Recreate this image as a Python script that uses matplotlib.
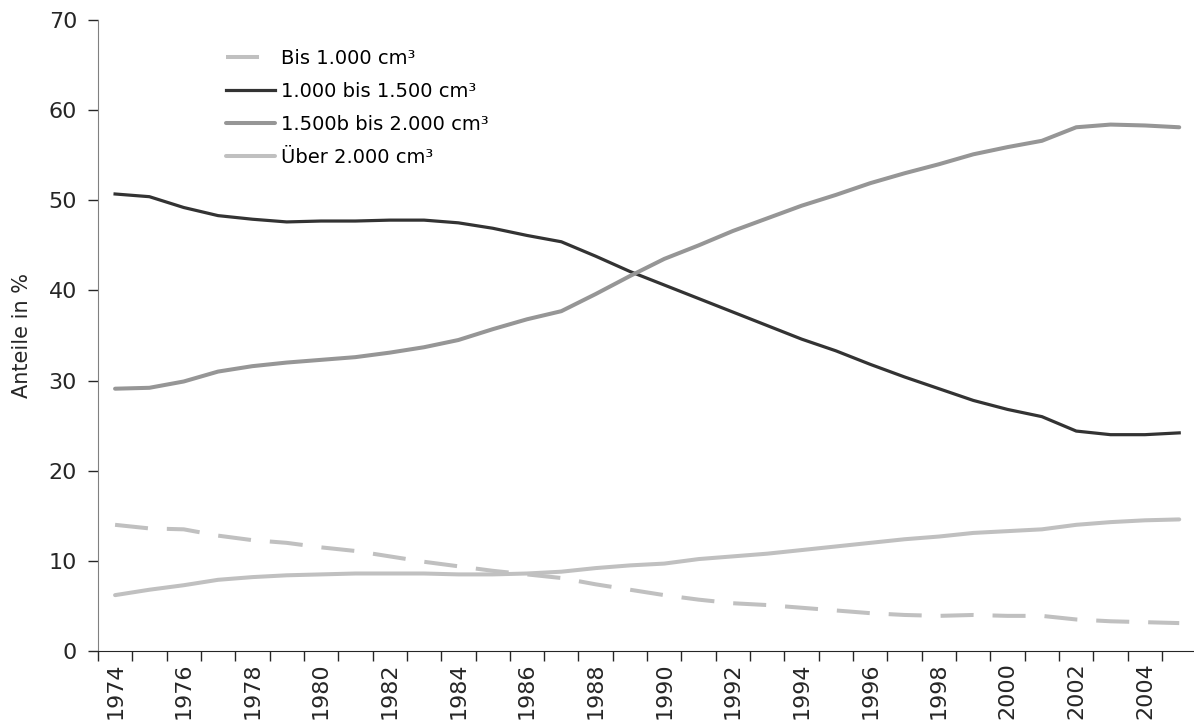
import numpy as np
import matplotlib
matplotlib.use("Agg")
import matplotlib.pyplot as plt

# Data
years = list(range(1974, 2006))

bis_1000 = [14.0, 13.6, 13.5, 12.8, 12.3, 12.0, 11.5, 11.1, 10.5, 9.9,
            9.4, 8.9, 8.5, 8.1, 7.4, 6.8, 6.2, 5.7, 5.3, 5.1,
            4.8, 4.5, 4.2, 4.0, 3.9, 4.0, 3.9, 3.9, 3.5, 3.3, 3.2, 3.1]

von_1000_bis_1500 = [50.7, 50.4, 49.2, 48.3, 47.9, 47.6, 47.7, 47.7, 47.8, 47.8,
                     47.5, 46.9, 46.1, 45.4, 43.8, 42.1, 40.6, 39.1, 37.6, 36.1,
                     34.6, 33.3, 31.8, 30.4, 29.1, 27.8, 26.8, 26.0, 24.4, 24.0, 24.0, 24.2]

von_1500_bis_2000 = [29.1, 29.2, 29.9, 31.0, 31.6, 32.0, 32.3, 32.6, 33.1, 33.7,
                     34.5, 35.7, 36.8, 37.7, 39.6, 41.6, 43.5, 45.0, 46.6, 48.0,
                     49.4, 50.6, 51.9, 53.0, 54.0, 55.1, 55.9, 56.6, 58.1, 58.4, 58.3, 58.1]

ueber_2000 = [6.2, 6.8, 7.3, 7.9, 8.2, 8.4, 8.5, 8.6, 8.6, 8.6,
              8.5, 8.5, 8.6, 8.8, 9.2, 9.5, 9.7, 10.2, 10.5, 10.8,
              11.2, 11.6, 12.0, 12.4, 12.7, 13.1, 13.3, 13.5, 14.0, 14.3, 14.5, 14.6]

labels = ["Bis 1.000 cm³", "1.000 bis 1.500 cm³", "1.500b bis 2.000 cm³", "Über 2.000 cm³"]

plt.rcParams['font.family'] = ['DejaVu Sans']

fig = plt.figure(figsize=(11.94, 7.22), dpi=100)
ax = fig.add_axes([0.082, 0.0983, 0.92, 0.874])

x = np.arange(len(years))

ax.plot(x, bis_1000, color='#c0c0c0', linewidth=2.9, dashes=(8.2, 4.7),
        dash_capstyle='butt', label=labels[0])
ax.plot(x, von_1000_bis_1500, color='#333333', linewidth=2.3, label=labels[1])
ax.plot(x, von_1500_bis_2000, color='#969696', linewidth=2.9, solid_capstyle='round', label=labels[2])
ax.plot(x, ueber_2000, color='#c0c0c0', linewidth=2.9, solid_capstyle='round', label=labels[3])

ax.set_xlim(-0.5, len(years) - 0.5)
ax.set_ylim(0, 70)
ax.set_yticks(range(0, 71, 10))

# labels on every other year, tick marks between categories
ax.set_xticks(x[::2])
ax.set_xticklabels([str(y) for y in years[::2]], rotation=90)
ax.set_xticks(np.arange(-0.5, len(years), 1), minor=True)
ax.tick_params(axis='x', which='major', length=0, pad=8, labelsize=16, colors='#262626')
ax.tick_params(axis='x', which='minor', length=7, width=1, color='#262626')
ax.tick_params(axis='y', length=7, width=1, labelsize=16, colors='#262626', pad=8)

ax.spines['top'].set_visible(False)
ax.spines['right'].set_visible(False)
ax.spines['left'].set_color('#808080')
ax.spines['bottom'].set_color('#262626')

ax.set_ylabel("Anteile in %", fontsize=15, color='#262626')
ax.yaxis.set_label_coords(-0.060, 0.5)

ax.legend(loc='upper left', bbox_to_anchor=(0.117, 0.954), frameon=False,
          fontsize=14, handlelength=2.5, handletextpad=0.3, labelspacing=0.72,
          borderpad=0, borderaxespad=0)

plt.savefig("out.png", dpi=100)
